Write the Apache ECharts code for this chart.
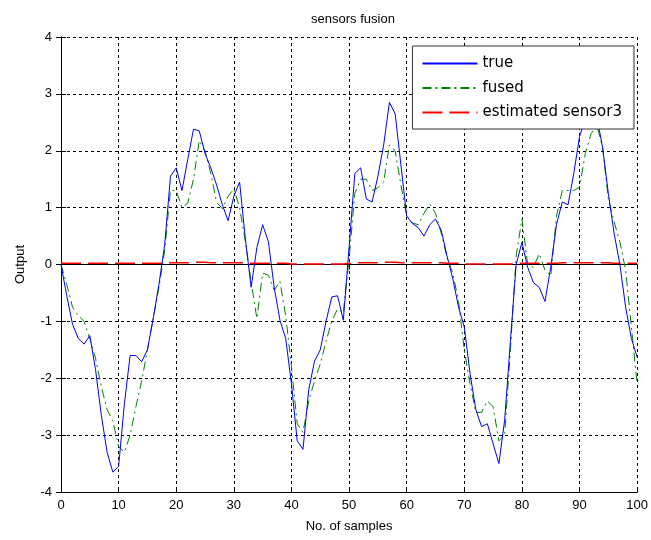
<!DOCTYPE html>
<html>
<head>
<meta charset="utf-8">
<title>sensors fusion</title>
<script src="https://cdn.jsdelivr.net/npm/echarts@6/dist/echarts.min.js"></script>
<style>
  html, body { margin: 0; padding: 0; background: #fff; }
  #main { width: 651px; height: 540px; }
</style>
</head>
<body>
<div id="main"></div>
<script>
// samples 0..100
var trueVals = [
  0, -0.55, -1.05, -1.3, -1.4, -1.25, -1.85, -2.65, -3.3, -3.65,
  -3.55, -2.45, -1.6, -1.6, -1.71, -1.5, -0.95, -0.35, 0.35, 1.55,
  1.7, 1.3, 1.85, 2.38, 2.35, 1.95, 1.7, 1.4, 1.05, 0.77,
  1.2, 1.45, 0.45, -0.4, 0.3, 0.7, 0.4, -0.4, -0.98, -1.3,
  -2.1, -3.1, -3.25, -2.2, -1.7, -1.5, -1.0, -0.57, -0.55, -0.98,
  0.3, 1.6, 1.7, 1.15, 1.1, 1.55, 2.1, 2.85, 2.65, 1.75,
  0.85, 0.72, 0.65, 0.5, 0.7, 0.8, 0.6, 0.15, -0.25, -0.75,
  -1.1, -1.92, -2.55, -2.85, -2.8, -3.15, -3.5, -2.74, -1.35, 0.0,
  0.39, -0.05, -0.32, -0.4, -0.65, -0.05, 0.7, 1.1, 1.05, 1.6,
  2.25, 2.55, 2.75, 2.6, 2.06, 1.25, 0.55, 0.0, -0.75, -1.3,
  -1.63
];
var fusedVals = [
  0, -0.35, -0.75, -0.9, -1.0, -1.3, -1.65, -2.15, -2.55, -2.75,
  -3.2, -3.3, -3.0, -2.5, -2.05, -1.5, -0.95, -0.4, 0.25, 1.3,
  1.3, 1.0, 1.08, 1.5, 2.18, 2.0, 1.6, 1.1, 0.98, 1.2,
  1.33, 1.0, 0.4, -0.3, -0.95, -0.15, -0.19, -0.45, -0.3, -0.9,
  -1.8, -2.8, -2.95, -2.4, -2.05, -1.75, -1.35, -1.0, -0.78, -0.85,
  0.1, 1.25, 1.5, 1.5, 1.3, 1.35, 1.45, 2.1, 2.0, 1.4,
  0.85, 0.73, 0.7, 0.9, 1.06, 0.9, 0.55, 0.12, -0.15, -0.65,
  -1.5, -2.1, -2.6, -2.6, -2.4, -2.5, -3.1, -3.0, -1.5, 0.15,
  0.8, 0.0, -0.05, 0.19, -0.1, -0.2, 0.85, 1.3, 1.3, 1.3,
  1.36, 1.95, 2.3, 2.45, 2.06, 1.15, 0.75, 0.4, -0.1, -1.1,
  -2.1
];
var sensor3Vals = [
  0.02, 0.02, 0.02, 0.02, 0.02, 0.02, 0.02, 0.02, 0.02, 0.02,
  0.02, 0.02, 0.02, 0.02, 0.02, 0.02, 0.02, 0.02, 0.02, 0.03,
  0.03, 0.03, 0.03, 0.04, 0.04, 0.04, 0.03, 0.03, 0.03, 0.03,
  0.03, 0.03, 0.03, 0.02, 0.02, 0.02, 0.02, 0.02, 0.02, 0.02,
  0.01, 0.01, 0.01, 0.01, 0.01, 0.01, 0.01, 0.01, 0.01, 0.01,
  0.02, 0.03, 0.03, 0.03, 0.03, 0.03, 0.04, 0.04, 0.04, 0.03,
  0.03, 0.03, 0.03, 0.03, 0.03, 0.03, 0.03, 0.02, 0.02, 0.02,
  0.01, 0.01, 0.01, 0.01, 0.01, 0.01, 0.01, 0.01, 0.01, 0.02,
  0.02, 0.02, 0.02, 0.02, 0.02, 0.02, 0.02, 0.03, 0.03, 0.03,
  0.03, 0.03, 0.03, 0.03, 0.03, 0.03, 0.02, 0.02, 0.02, 0.02,
  0.02
];
var xTicks = [0, 10, 20, 30, 40, 50, 60, 70, 80, 90, 100];
var yTicks = [-4, -3, -2, -1, 0, 1, 2, 3, 4];

function pairs(arr) {
  var out = [];
  for (var i = 0; i < arr.length; i++) out.push([i, arr[i]]);
  return out;
}

var font = 'Liberation Sans, Arial, sans-serif';
var chart = echarts.init(document.getElementById('main'));

var tickStyle = { show: true, inside: true, length: 5, lineStyle: { color: '#000' } };
var gridLine = { show: true, lineStyle: { color: '#000', type: [3, 3], width: 1 } };

var option = {
  animation: false,
  backgroundColor: '#fff',
  title: {
    text: 'sensors fusion',
    left: 348, textAlign: 'center', top: 8,
    textStyle: { fontFamily: font, fontSize: 13, fontWeight: 'normal', color: '#000' }
  },
  grid: { left: 61, right: 13, top: 37, bottom: 48, show: false },
  legend: {
    orient: 'vertical',
    right: 17, top: 46,
    backgroundColor: '#fff',
    borderColor: '#333', borderWidth: 1, borderRadius: 0,
    padding: [10, 12, 9, 9],
    itemWidth: 55, itemHeight: 16, itemGap: 9.5,
    itemStyle: { opacity: 0 },
    textStyle: { fontFamily: 'DejaVu Sans, sans-serif', fontSize: 15, color: '#000' },
    data: ['true', 'fused', 'estimated sensor3']
  },
  xAxis: [{
    type: 'value', min: xTicks[0], max: xTicks[xTicks.length - 1], interval: 10,
    name: 'No. of samples', nameLocation: 'middle', nameGap: 28,
    nameTextStyle: { fontFamily: font, fontSize: 13, color: '#000' },
    axisLine: { show: true, onZero: false, lineStyle: { color: '#000' } },
    axisTick: tickStyle,
    axisLabel: { fontFamily: font, fontSize: 13, color: '#000', margin: 7 },
    splitLine: gridLine
  }, {
    type: 'value', position: 'top', min: 0, max: 100, interval: 10,
    axisLine: { show: true, lineStyle: { color: '#000' } },
    axisTick: tickStyle, axisLabel: { show: false }, splitLine: { show: false }
  }],
  yAxis: [{
    type: 'value', min: yTicks[0], max: yTicks[yTicks.length - 1], interval: 1,
    name: 'Output', nameLocation: 'middle', nameGap: 34,
    nameTextStyle: { fontFamily: font, fontSize: 13, color: '#000' },
    axisLine: { show: true, onZero: false, lineStyle: { color: '#000' } },
    axisTick: tickStyle,
    axisLabel: { fontFamily: font, fontSize: 13, color: '#000', margin: 9 },
    splitLine: gridLine
  }, {
    type: 'value', position: 'right', min: -4, max: 4, interval: 1,
    axisLine: { show: true, lineStyle: { color: '#000' } },
    axisTick: tickStyle, axisLabel: { show: false }, splitLine: { show: false }
  }],
  series: [{
    name: 'true', type: 'line', data: pairs(trueVals),
    symbol: 'none', z: 3,
    itemStyle: { color: '#0000ff' },
    lineStyle: { color: '#0000ff', width: 1 }
  }, {
    name: 'fused', type: 'line', data: pairs(fusedVals),
    symbol: 'none', z: 2,
    itemStyle: { color: '#008000' },
    lineStyle: { color: '#008000', width: 1, type: [9, 4, 2, 4] }
  }, {
    name: 'estimated sensor3', type: 'line', data: pairs(sensor3Vals),
    symbol: 'none', z: 4,
    itemStyle: { color: '#ff0000' },
    lineStyle: { color: '#ff0000', width: 1.5, type: [20, 7] }
  }]
};
chart.setOption(option);
</script>
</body>
</html>
